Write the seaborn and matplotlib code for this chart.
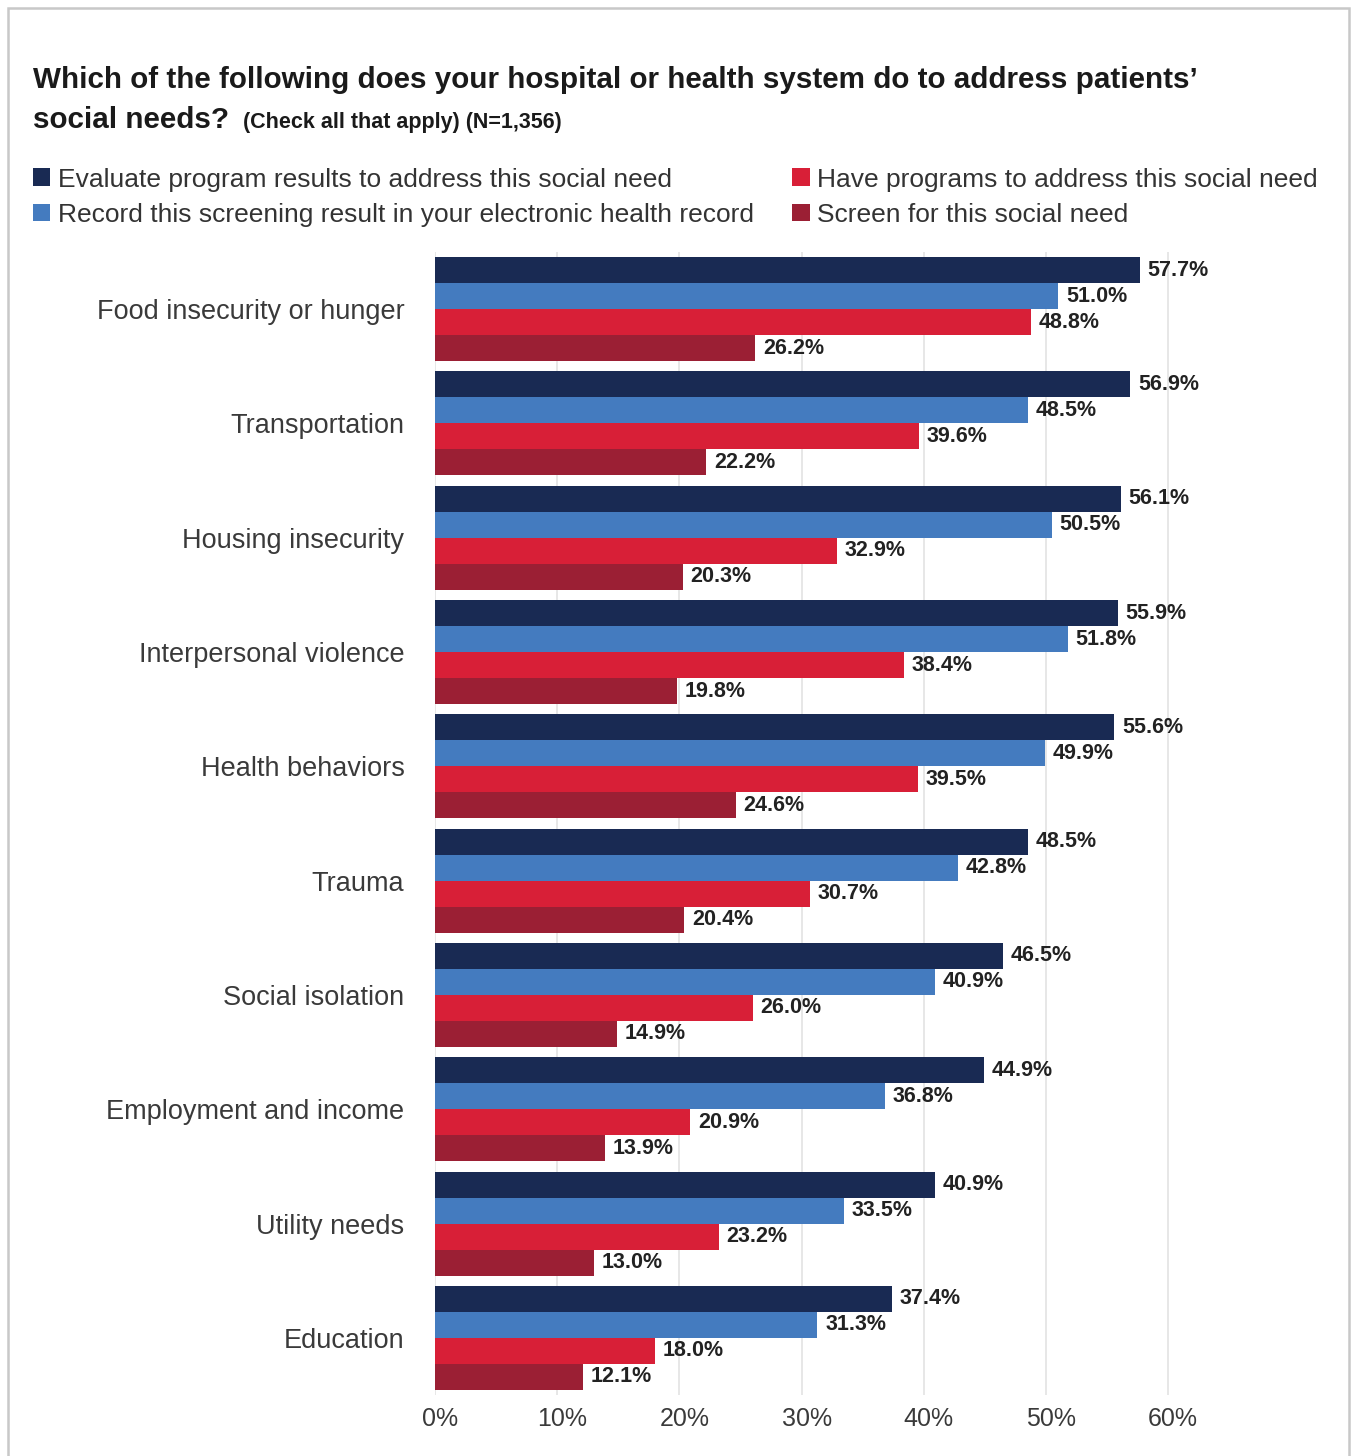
import matplotlib
matplotlib.use("Agg")
import matplotlib.pyplot as plt
from matplotlib import font_manager
from matplotlib.patches import Rectangle
from matplotlib.transforms import ScaledTranslation
import seaborn as sns
import pandas as pd

# ---------------- data ----------------
categories = ["Food insecurity or hunger", "Transportation", "Housing insecurity",
              "Interpersonal violence", "Health behaviors", "Trauma",
              "Social isolation", "Employment and income", "Utility needs", "Education"]
series_names = ["Evaluate program results to address this social need",
                "Record this screening result in your electronic health record",
                "Have programs to address this social need",
                "Screen for this social need"]
evaluate_vals = [57.7, 56.9, 56.1, 55.9, 55.6, 48.5, 46.5, 44.9, 40.9, 37.4]
record_vals = [51.0, 48.5, 50.5, 51.8, 49.9, 42.8, 40.9, 36.8, 33.5, 31.3]
have_vals = [48.8, 39.6, 32.9, 38.4, 39.5, 30.7, 26.0, 20.9, 23.2, 18.0]
screen_vals = [26.2, 22.2, 20.3, 19.8, 24.6, 20.4, 14.9, 13.9, 13.0, 12.1]
x_ticks = [0, 10, 20, 30, 40, 50, 60]
x_tick_labels = ["0%", "10%", "20%", "30%", "40%", "50%", "60%"]
colors = ["#192a53", "#447bbf", "#d81f37", "#9b1f34"]

title_line1 = "Which of the following does your hospital or health system do to address patients\u2019"
title_line2 = "social needs?"
subtitle = "(Check all that apply) (N=1,356)"

# ---------------- fonts ----------------
avail = {f.name for f in font_manager.fontManager.ttflist}
def pick(*names):
    for n in names:
        if n in avail:
            return n
    return "DejaVu Sans"
narrow = pick("Liberation Sans Narrow", "Liberation Sans")
regular = pick("Liberation Sans", "Roboto", "DejaVu Sans")

rows = []
for vals, name in zip([evaluate_vals, record_vals, have_vals, screen_vals], series_names):
    for c, v in zip(categories, vals):
        rows.append({"category": c, "series": name, "value": v})
df = pd.DataFrame(rows)

sns.set_theme(style="white")
plt.rcParams["font.family"] = [regular, "DejaVu Sans"]

W, H = 1351, 1456
fig = plt.figure(figsize=(W / 100, H / 100), dpi=100)
ax_left, ax_right = 435 / W, (435 + 62 * 12.22) / W
ax_top, ax_bot = 1 - 252 / H, 1 - 1395 / H
ax = fig.add_axes([ax_left, ax_bot, ax_right - ax_left, ax_top - ax_bot])

sns.barplot(data=df, y="category", x="value", hue="series", order=categories,
            hue_order=series_names, palette=colors, orient="h", width=0.91,
            saturation=1, ax=ax, legend=True, zorder=3, linewidth=0,
            edgecolor="none")

for cont in ax.containers:
    ax.bar_label(cont, labels=[f"{v:.1f}%" for v in cont.datavalues], padding=5.5,
                 fontsize=15.5, fontweight="bold", color="#222222",
                 family=[regular, "DejaVu Sans"])

ax.set_xlim(0, 62)
ax.set_ylim(9.5, -0.5)
ax.set_xticks(x_ticks)
ax.set_xticklabels(x_tick_labels, fontsize=18, color="#3a3a3a")
ax.tick_params(axis="x", length=0, pad=9)
ax.tick_params(axis="y", length=0, pad=22, labelsize=19.5, labelcolor="#3a3a3a")
off = ScaledTranslation(5 / 100, 0, fig.dpi_scale_trans)
for lab in ax.get_xticklabels():
    lab.set_transform(lab.get_transform() + off)
ax.set_xlabel("")
ax.set_ylabel("")
ax.grid(axis="x", color="#e3e3e3", linewidth=1.2, zorder=0)
ax.grid(axis="y", visible=False)
ax.set_axisbelow(True)
for s in ax.spines.values():
    s.set_visible(False)

# legend
handles, labels = ax.get_legend_handles_labels()
ax.get_legend().remove()
leg = fig.legend(handles, labels, ncol=2, loc="upper left",
                 bbox_to_anchor=(22.5 / W, 1 - 157 / H), frameon=False,
                 prop={"family": narrow, "size": 19}, labelcolor="#333333",
                 handlelength=0.65, handleheight=0.65, handletextpad=0.3,
                 columnspacing=1.45, labelspacing=0.43, borderaxespad=0)

# title
t1 = fig.text(33 / W, 1 - 88 / H, title_line1, fontsize=21.3, fontweight="bold",
              family=[narrow, "DejaVu Sans"], color="#1a1a1a", va="baseline")
t2 = fig.text(33 / W, 1 - 128 / H, title_line2, fontsize=21.3, fontweight="bold",
              family=[narrow, "DejaVu Sans"], color="#1a1a1a", va="baseline")
fig.canvas.draw()
bb = t2.get_window_extent(renderer=fig.canvas.get_renderer())
fig.text((bb.x1 + 14) / W, 1 - 128 / H, subtitle, fontsize=15.5, fontweight="bold",
         family=[narrow, "DejaVu Sans"], color="#1a1a1a", va="baseline")

# border
fig.patches.append(Rectangle((8 / W, -0.05), (1349 - 8) / W, 1 - 8 / H + 0.05,
                             transform=fig.transFigure, fill=False,
                             edgecolor="#c8c8c8", linewidth=1.8))

fig.savefig("out.png", dpi=100)
